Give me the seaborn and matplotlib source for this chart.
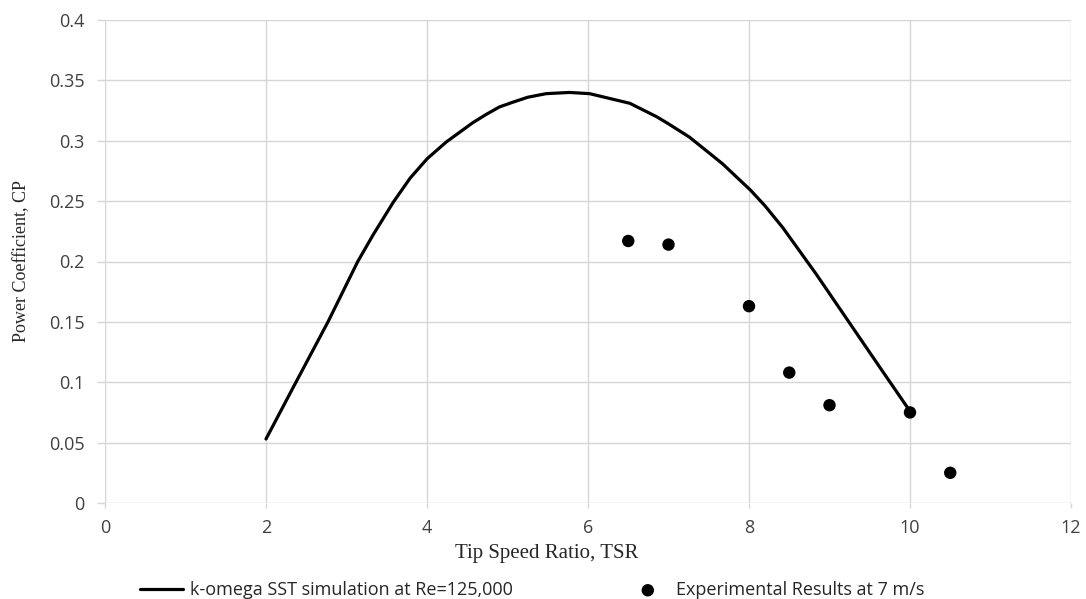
import matplotlib
matplotlib.use("Agg")
import matplotlib.pyplot as plt
import seaborn as sns
import pandas as pd

# Simulation curve (k-omega SST, Re=125,000)
tsr_sim = [2.0, 2.34, 2.77, 3.14, 3.33, 3.58, 3.79, 4.0, 4.24, 4.57, 4.74, 4.9, 5.07, 5.25, 5.48, 5.77,
           6.02, 6.52, 6.85, 7.0, 7.26, 7.67, 8.02, 8.2, 8.42, 8.83, 9.25, 9.66, 10.0]
cp_sim = [0.053, 0.096, 0.150, 0.200, 0.222, 0.249, 0.269, 0.285, 0.299, 0.315, 0.322, 0.328, 0.332, 0.336, 0.339, 0.340,
          0.339, 0.331, 0.320, 0.314, 0.303, 0.281, 0.259, 0.246, 0.228, 0.190, 0.149, 0.109, 0.076]

# Experimental results at 7 m/s
tsr_exp = [6.5, 7.0, 8.0, 8.5, 9.0, 10.0, 10.5]
cp_exp = [0.217, 0.214, 0.163, 0.108, 0.081, 0.075, 0.025]

x_ticks = [0, 2, 4, 6, 8, 10, 12]
y_ticks = [0, 0.05, 0.1, 0.15, 0.2, 0.25, 0.3, 0.35, 0.4]
y_tick_labels = ["0", "0.05", "0.1", "0.15", "0.2", "0.25", "0.3", "0.35", "0.4"]

label_sim = "k-omega SST simulation at Re=125,000"
label_exp = "Experimental Results at 7 m/s"

sns.set_theme(style="white")
plt.rcParams["font.family"] = ["Open Sans", "DejaVu Sans"]

fig = plt.figure(figsize=(10.86, 5.99), dpi=100)
ax = fig.add_axes([105 / 1086, 1 - 503 / 599, 966 / 1086, 483 / 599])

df_sim = pd.DataFrame({"tsr": tsr_sim, "cp": cp_sim})
df_exp = pd.DataFrame({"tsr": tsr_exp, "cp": cp_exp})

sns.lineplot(data=df_sim, x="tsr", y="cp", ax=ax, color="black", linewidth=2.3,
             label=label_sim, sort=True, zorder=3)
sns.scatterplot(data=df_exp, x="tsr", y="cp", ax=ax, color="black", s=80,
                edgecolor="none", label=label_exp, zorder=4)
for ln in ax.lines:
    ln.set_solid_joinstyle("round")

ax.set_xlim(0, 12)
ax.set_ylim(0, 0.4)
ax.set_xticks(x_ticks)
ax.set_yticks(y_ticks)
ax.set_yticklabels(y_tick_labels)

grid_color = "#d6d6d6"
ax.grid(True, color=grid_color, linewidth=1.0)
ax.set_axisbelow(True)
for s in ax.spines.values():
    s.set_visible(False)

ax.tick_params(axis="x", which="major", length=3.6, width=1.0, color=grid_color,
               pad=8, labelsize=13, labelcolor="#404040", bottom=True)
ax.tick_params(axis="y", which="major", length=5.8, width=1.0, color=grid_color,
               pad=9, labelsize=13, labelcolor="#404040", left=True)

ax.set_xlabel("Tip Speed Ratio, TSR", family=["Liberation Serif"], fontsize=15, color="#262626")
ax.set_ylabel("Power Coefficient, CP", family=["Liberation Serif"], fontsize=13, color="#262626")
ax.xaxis.set_label_coords((547 - 105) / 966, -(544 - 503) / 483)
ax.yaxis.set_label_coords(-(105 - 30) / 966, 0.5)

handles, labels = ax.get_legend_handles_labels()
if ax.legend_:
    ax.legend_.remove()
fig.legend(handles, labels, loc="center", bbox_to_anchor=(532 / 1086, 1 - 590 / 599),
           ncol=2, frameon=False, fontsize=13, handlelength=2.4, handletextpad=0.35,
           columnspacing=6.3, labelcolor="#262626", markerscale=1.0)

fig.savefig("out.png", dpi=100)
